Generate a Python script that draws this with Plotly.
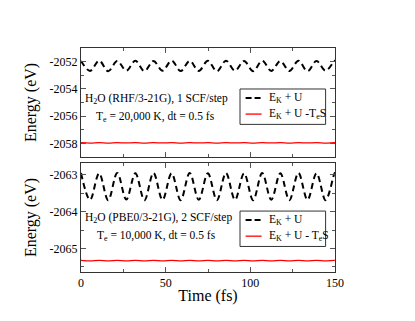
import plotly.graph_objects as go
from plotly.subplots import make_subplots

# sample times (fs), roughly at the extrema of the oscillation
t = [0, 5.35, 10.7, 16.05, 21.4, 26.75, 32.1, 37.45, 42.8, 48.15, 53.5, 58.85,
     64.2, 69.55, 74.9, 80.25, 85.6, 90.95, 96.3, 101.65, 107.0, 112.35, 117.7,
     123.05, 128.4, 133.75, 139.1, 144.45, 149.8, 150]

# top panel: H2O RHF, 1 SCF/step
ek_u_top = [-2051.95, -2052.68, -2051.93, -2052.70, -2051.96, -2052.66, -2051.94,
            -2052.70, -2051.95, -2052.67, -2051.92, -2052.69, -2051.95, -2052.68,
            -2051.94, -2052.71, -2051.93, -2052.67, -2051.95, -2052.70, -2051.94,
            -2052.68, -2051.96, -2052.69, -2051.93, -2052.70, -2051.95, -2052.67,
            -2051.94, -2051.98]
free_top = [-2057.95, -2057.98, -2057.95, -2057.98, -2057.95, -2057.97, -2057.95,
            -2057.98, -2057.95, -2057.97, -2057.95, -2057.98, -2057.95, -2057.97,
            -2057.95, -2057.98, -2057.95, -2057.97, -2057.95, -2057.98, -2057.95,
            -2057.97, -2057.95, -2057.98, -2057.95, -2057.97, -2057.95, -2057.98,
            -2057.95, -2057.96]

# bottom panel: H2O PBE0, 2 SCF/step
ek_u_bot = [-2062.95, -2063.68, -2062.96, -2063.69, -2062.95, -2063.67, -2062.96,
            -2063.69, -2062.95, -2063.68, -2062.96, -2063.69, -2062.95, -2063.68,
            -2062.96, -2063.69, -2062.95, -2063.68, -2062.96, -2063.69, -2062.95,
            -2063.68, -2062.96, -2063.69, -2062.95, -2063.68, -2062.96, -2063.69,
            -2062.95, -2062.97]
free_bot = [-2065.325, -2065.34, -2065.325, -2065.34, -2065.325, -2065.34, -2065.325,
            -2065.34, -2065.325, -2065.34, -2065.325, -2065.34, -2065.325, -2065.34,
            -2065.325, -2065.34, -2065.325, -2065.34, -2065.325, -2065.34, -2065.325,
            -2065.34, -2065.325, -2065.34, -2065.325, -2065.34, -2065.325, -2065.34,
            -2065.325, -2065.33]

x_ticks = [0, 50, 100, 150]
top_ticks = [-2058, -2056, -2054, -2052]
bot_ticks = [-2065, -2064, -2063]

serif = "Liberation Serif, Times New Roman, Times, serif"
black_dash = dict(color="black", width=2, dash="6px,4px")
red_line = dict(color="red", width=1.3)

fig = make_subplots(rows=2, cols=1, shared_xaxes=True, vertical_spacing=0.027)

fig.add_trace(go.Scatter(x=t, y=ek_u_top, mode="lines", line_shape="spline",
                         line=black_dash, name="E<sub>K</sub> + U"), row=1, col=1)
fig.add_trace(go.Scatter(x=t, y=free_top, mode="lines", line_shape="spline",
                         line=red_line, name="E<sub>K</sub> + U -T<sub>e</sub>S"), row=1, col=1)
fig.add_trace(go.Scatter(x=t, y=ek_u_bot, mode="lines", line_shape="spline",
                         line=black_dash, name="E<sub>K</sub> + U"), row=2, col=1)
fig.add_trace(go.Scatter(x=t, y=free_bot, mode="lines", line_shape="spline",
                         line=red_line, name="E<sub>K</sub> + U - T<sub>e</sub>S"), row=2, col=1)

axis_style = dict(showline=True, linecolor="#333", linewidth=1, mirror="allticks",
                  ticks="inside", ticklen=5, tickcolor="#555", showgrid=False,
                  zeroline=False, automargin=False,
                  tickfont=dict(family=serif, size=12, color="black"))

fig.update_xaxes(range=[0, 150], tickvals=x_ticks,
                 minor=dict(dtick=25, ticks="inside", ticklen=3, tickcolor="#555"),
                 **axis_style)
fig.update_xaxes(title=dict(text="Time (fs)", font=dict(family=serif, size=16), standoff=0),
                 row=2, col=1)
fig.update_yaxes(range=[-2059, -2051], tickvals=top_ticks,
                 ticktext=[str(v) for v in top_ticks],
                 minor=dict(dtick=1, ticks="inside", ticklen=3, tickcolor="#555"),
                 title=dict(text="Energy (eV)", font=dict(family=serif, size=16), standoff=8),
                 row=1, col=1, **axis_style)
fig.update_yaxes(range=[-2065.64, -2062.68], tickvals=bot_ticks,
                 ticktext=[str(v) for v in bot_ticks],
                 minor=dict(dtick=0.5, ticks="inside", ticklen=3, tickcolor="#555"),
                 title=dict(text="Energy (eV)", font=dict(family=serif, size=16), standoff=8),
                 row=2, col=1, **axis_style)

# hand-drawn legend boxes (x0, y_top in paper units for each panel)
legend_boxes = [(0.626, 0.817, 1), (0.626, 0.272, 3)]
box_w, box_h, row_h = 0.337, 0.158, 0.072
for x0, y1, first in legend_boxes:
    fig.add_shape(type="rect", xref="paper", yref="paper", x0=x0, x1=x0 + box_w,
                  y0=y1 - box_h, y1=y1, line=dict(color="#333", width=1),
                  fillcolor="white", layer="above")
    for k in range(2):
        tr = fig.data[first - 1 + k]
        yy = y1 - 0.04 - k * row_h
        fig.add_shape(type="line", xref="paper", yref="paper", x0=x0 + 0.022,
                      x1=x0 + 0.085, y0=yy, y1=yy, layer="above",
                      line=dict(color=tr.line.color, width=tr.line.width,
                                dash="6px,3px" if k == 0 else "solid"))
        fig.add_annotation(text=tr.name, x=x0 + 0.106, y=yy, xref="paper", yref="paper",
                           xanchor="left", yanchor="middle", showarrow=False,
                           font=dict(family=serif, size=11.5, color="black"))

notes = [
    ("H<sub>2</sub>O (RHF/3-21G), 1 SCF/step", 0.006, 0.772),
    ("T<sub>e</sub> = 20,000 K, dt = 0.5 fs", 0.05, 0.692),
    ("H<sub>2</sub>O (PBE0/3-21G), 2 SCF/step", 0.006, 0.241),
    ("T<sub>e</sub> = 10,000 K, dt = 0.5 fs", 0.056, 0.161),
]
for txt, x, y in notes:
    fig.add_annotation(text=txt, x=x, y=y, xref="paper", yref="paper",
                       xanchor="left", yanchor="middle", showarrow=False,
                       font=dict(family=serif, size=11.5, color="black"))

# the page body adds 8px on the left/top, so margins are shifted by that
fig.update_layout(width=415, height=321, margin=dict(l=73, r=88, t=40, b=57),
                  plot_bgcolor="white", paper_bgcolor="white", showlegend=False,
                  font=dict(family=serif, color="black"))

fig.write_html("out.html")
